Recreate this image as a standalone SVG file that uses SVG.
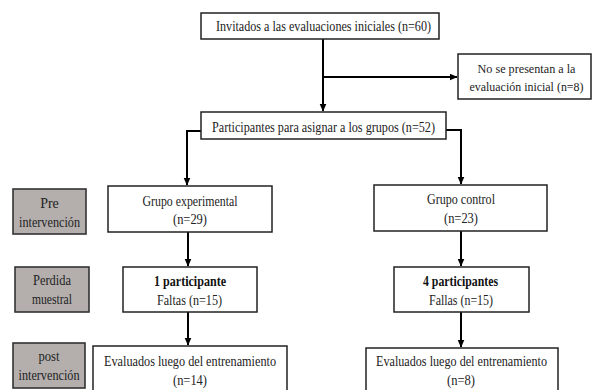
<svg xmlns="http://www.w3.org/2000/svg" width="594" height="390" viewBox="0 0 594 390">
<defs>
<style>
.box{fill:#fff;stroke:#222;stroke-width:1.5}
.lab{fill:#b4afad;stroke:#333;stroke-width:1.6}
.t{font-family:"Liberation Serif","Times New Roman",serif;font-size:14px;fill:#222;text-anchor:middle}
.s{font-size:13px}
.b{font-weight:bold;fill:#111}
.c{fill:none;stroke:#000;stroke-width:2}
</style>
<marker id="ah" markerUnits="userSpaceOnUse" markerWidth="8" markerHeight="8" refX="7.5" refY="3.5" orient="auto">
<path d="M0,0 L8,3.5 L0,7 z" fill="#000"/>
</marker>
</defs>
<rect width="594" height="390" fill="#fff"/>
<g id="connectors">
<path class="c" d="M323,39 V111" marker-end="url(#ah)"/>
<path class="c" d="M323,77 H457" marker-end="url(#ah)"/>
<path class="c" d="M201,131 H187 V185" marker-end="url(#ah)"/>
<path class="c" d="M446,130 H461 V184" marker-end="url(#ah)"/>
<path class="c" d="M188,232 V266" marker-end="url(#ah)"/>
<path class="c" d="M188,312 V345" marker-end="url(#ah)"/>
<path class="c" d="M461,231 V266" marker-end="url(#ah)"/>
<path class="c" d="M461,312 V347" marker-end="url(#ah)"/>
</g>
<g id="invitados">
<rect class="box" x="201" y="13" width="238" height="26"/>
<text class="t" x="323.5" y="31" textLength="215" lengthAdjust="spacingAndGlyphs">Invitados a las evaluaciones iniciales (n=60)</text>
</g>
<g id="no-presentan">
<rect class="box" x="458" y="54" width="133" height="45"/>
<text class="t s" x="526.5" y="73" textLength="98" lengthAdjust="spacingAndGlyphs">No se presentan a la</text>
<text class="t s" x="526.5" y="91" textLength="114" lengthAdjust="spacingAndGlyphs">evaluación inicial (n=8)</text>
</g>
<g id="participantes">
<rect class="box" x="201" y="112" width="245" height="27"/>
<text class="t" x="323.5" y="132" textLength="223" lengthAdjust="spacingAndGlyphs">Participantes para asignar a los grupos (n=52)</text>
</g>
<g id="pre">
<rect class="lab" x="13" y="189" width="73" height="45"/>
<text class="t" x="49.5" y="208">Pre</text>
<text class="t" x="49.5" y="227" textLength="61" lengthAdjust="spacingAndGlyphs">intervención</text>
</g>
<g id="experimental">
<rect class="box" x="108" y="186" width="164" height="46"/>
<text class="t" x="190" y="206" textLength="95" lengthAdjust="spacingAndGlyphs">Grupo experimental</text>
<text class="t" x="190" y="224" textLength="34" lengthAdjust="spacingAndGlyphs">(n=29)</text>
</g>
<g id="control">
<rect class="box" x="374" y="185" width="173" height="46"/>
<text class="t" x="461" y="204" textLength="68" lengthAdjust="spacingAndGlyphs">Grupo control</text>
<text class="t" x="461" y="223" textLength="34" lengthAdjust="spacingAndGlyphs">(n=23)</text>
</g>
<g id="perdida">
<rect class="lab" x="15" y="267" width="74" height="45"/>
<text class="t" x="52" y="285" textLength="38" lengthAdjust="spacingAndGlyphs">Perdida</text>
<text class="t" x="52" y="304" textLength="40" lengthAdjust="spacingAndGlyphs">muestral</text>
</g>
<g id="perdida-exp">
<rect class="box" x="123" y="267" width="134" height="45"/>
<text class="t b" x="190" y="286" textLength="72" lengthAdjust="spacingAndGlyphs">1 participante</text>
<text class="t" x="189.5" y="305" textLength="65" lengthAdjust="spacingAndGlyphs">Faltas (n=15)</text>
</g>
<g id="perdida-ctrl">
<rect class="box" x="394" y="267" width="135" height="45"/>
<text class="t b" x="460.5" y="286" textLength="75" lengthAdjust="spacingAndGlyphs">4 participantes</text>
<text class="t" x="461" y="305" textLength="64" lengthAdjust="spacingAndGlyphs">Fallas (n=15)</text>
</g>
<g id="post">
<rect class="lab" x="13" y="343" width="72" height="45"/>
<text class="t" x="49" y="361" textLength="21" lengthAdjust="spacingAndGlyphs">post</text>
<text class="t" x="49" y="380" textLength="61" lengthAdjust="spacingAndGlyphs">intervención</text>
</g>
<g id="evaluados-exp">
<rect class="box" x="93" y="346" width="194" height="50"/>
<text class="t" x="190" y="366" textLength="172" lengthAdjust="spacingAndGlyphs">Evaluados luego del entrenamiento</text>
<text class="t" x="190" y="385" textLength="34" lengthAdjust="spacingAndGlyphs">(n=14)</text>
</g>
<g id="evaluados-ctrl">
<rect class="box" x="366" y="348" width="192" height="50"/>
<text class="t" x="461.5" y="366" textLength="171" lengthAdjust="spacingAndGlyphs">Evaluados luego del entrenamiento</text>
<text class="t" x="461" y="385" textLength="28" lengthAdjust="spacingAndGlyphs">(n=8)</text>
</g>
</svg>
